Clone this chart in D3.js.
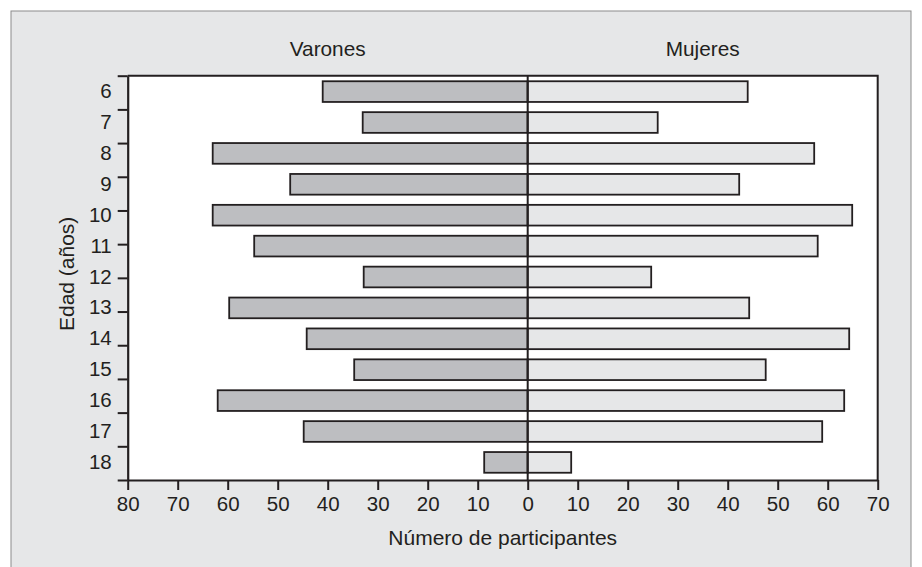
<!DOCTYPE html>
<html>
<head>
<meta charset="utf-8">
<script src="https://cdn.jsdelivr.net/npm/d3@7"></script>
<style>
  html, body { margin: 0; padding: 0; background: #ffffff; }
  svg { display: block; }
  text { font-family: "Liberation Sans", Arial, Helvetica, sans-serif; fill: #231f20; }
</style>
</head>
<body>
<svg id="chart" width="922" height="567"></svg>
<script>
// ---- data ----
const ages = ["6","7","8","9","10","11","12","13","14","15","16","17","18"];
const varones = [41, 33, 63, 47.5, 63, 54.7, 32.8, 59.7, 44.2, 34.7, 62, 44.8, 8.7];
const mujeres = [44, 26, 57.3, 42.3, 64.9, 58, 24.7, 44.3, 64.3, 47.6, 63.3, 58.9, 8.7];
const xTickValues = [-80,-70,-60,-50,-40,-30,-20,-10,0,10,20,30,40,50,60,70];
const groupLabels = ["Varones", "Mujeres"];
const xTitle = "Número de participantes";
const yTitle = "Edad (años)";

// ---- layout ----
const svg = d3.select("#chart");
const ink = "#231f20";
const L = 127.7, R = 877.7, T = 75.7, B = 480;

// outer grey frame
svg.append("rect").attr("x", 11).attr("y", 11).attr("width", 900).attr("height", 600)
  .attr("fill", "#e6e7e8").attr("stroke", "#8c8c8c").attr("stroke-width", 1);

// plot area
svg.append("rect").attr("x", L).attr("y", T).attr("width", R - L).attr("height", B - T)
  .attr("fill", "#ffffff");

const x = d3.scaleLinear().domain([-80, 70]).range([L, R]);
const y = d3.scaleBand().domain(ages).range([76, 478]).paddingInner(0.33).paddingOuter(0.17);
const yTick = d3.scaleLinear().domain([0, ages.length - 1]).range([T, B]);

// bars
const g = svg.append("g");
g.selectAll("rect.v").data(ages).join("rect").attr("class", "v")
  .attr("x", (d, i) => x(-varones[i])).attr("y", d => y(d))
  .attr("width", (d, i) => x(0) - x(-varones[i])).attr("height", y.bandwidth())
  .attr("fill", "#bdbec1").attr("stroke", ink).attr("stroke-width", 1.8);
g.selectAll("rect.m").data(ages).join("rect").attr("class", "m")
  .attr("x", x(0)).attr("y", d => y(d))
  .attr("width", (d, i) => x(mujeres[i]) - x(0)).attr("height", y.bandwidth())
  .attr("fill", "#e6e7e8").attr("stroke", ink).attr("stroke-width", 1.8);

// zero line
svg.append("line").attr("x1", x(0)).attr("x2", x(0)).attr("y1", T).attr("y2", B)
  .attr("stroke", ink).attr("stroke-width", 2);

// top and right borders
svg.append("path").attr("d", `M${L},${T}H${R}V${B}`)
  .attr("fill", "none").attr("stroke", ink).attr("stroke-width", 2);

// x axis
const xAxis = svg.append("g").attr("transform", `translate(0,${B})`)
  .call(d3.axisBottom(x).tickValues(xTickValues).tickFormat(d => Math.abs(d))
    .tickSize(10).tickPadding(6).tickSizeOuter(0));
xAxis.select(".domain").attr("stroke", ink).attr("stroke-width", 2.2);
xAxis.selectAll(".tick line").attr("stroke", ink).attr("stroke-width", 2);
xAxis.selectAll(".tick text").attr("font-size", "20.5px")
  .style("font-family", '"Liberation Sans", Arial, sans-serif').attr("fill", ink);

// y axis tick marks (evenly spaced)
const yTicks = svg.append("g").attr("transform", `translate(${L},0)`)
  .call(d3.axisLeft(yTick).tickValues(d3.range(ages.length)).tickFormat("")
    .tickSize(10).tickSizeOuter(0));
yTicks.select(".domain").attr("stroke", ink).attr("stroke-width", 2.2);
yTicks.selectAll(".tick line").attr("stroke", ink).attr("stroke-width", 2);

// y labels at bar centres
const yLab = svg.append("g").attr("transform", `translate(${L},0)`)
  .call(d3.axisLeft(y).tickSize(0).tickPadding(16));
yLab.select(".domain").remove();
yLab.selectAll(".tick text").attr("font-size", "20.5px")
  .style("font-family", '"Liberation Sans", Arial, sans-serif').attr("fill", ink);

// group titles
svg.append("text").attr("x", (x(-80) + x(0)) / 2).attr("y", 56)
  .attr("text-anchor", "middle").attr("font-size", "20.8px").text(groupLabels[0]);
svg.append("text").attr("x", (x(0) + x(70)) / 2).attr("y", 56)
  .attr("text-anchor", "middle").attr("font-size", "20.8px").text(groupLabels[1]);

// axis titles
svg.append("text").attr("x", (L + R) / 2).attr("y", 545)
  .attr("text-anchor", "middle").attr("font-size", "21px").text(xTitle);
svg.append("text").attr("transform", `translate(74,${(T + B) / 2 - 4}) rotate(-90)`)
  .attr("text-anchor", "middle").attr("font-size", "21px").text(yTitle);
</script>
</body>
</html>
